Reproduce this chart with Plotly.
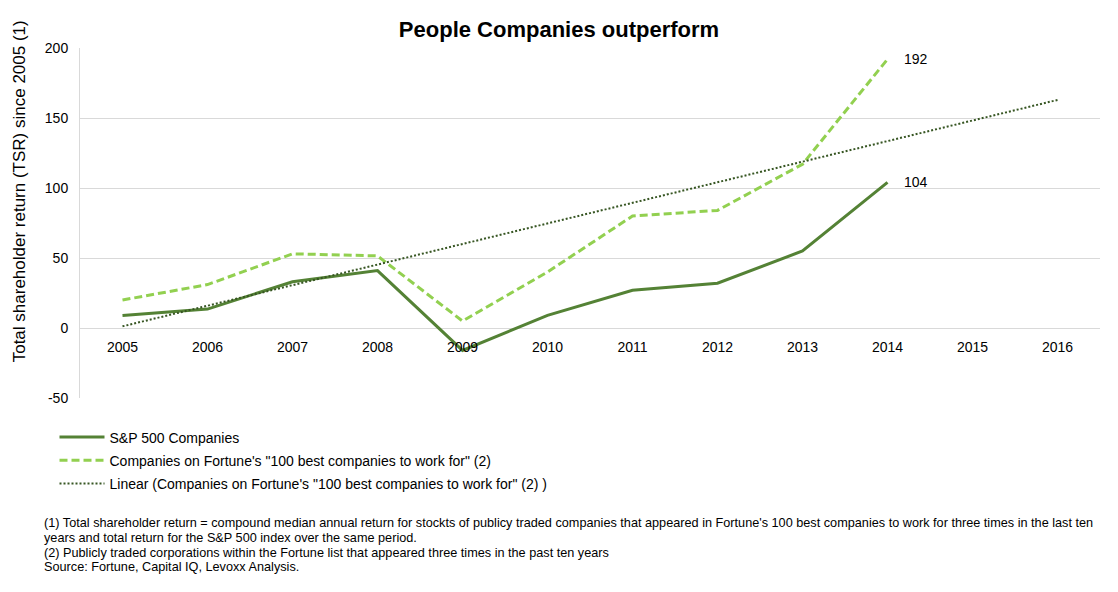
import numpy as np
import plotly.graph_objects as go

years = ["2005", "2006", "2007", "2008", "2009", "2010", "2011", "2012", "2013", "2014", "2015", "2016"]
sp500 = [9, 13.5, 33, 41, -16, 9, 27, 32, 55, 104]
fortune = [20, 31, 53, 51.5, 5, 40, 80, 84, 117, 192]
y_ticks = [-50, 0, 50, 100, 150, 200]

name_sp = "S&P 500 Companies"
name_f = "Companies on Fortune's \"100 best companies to work for\" (2)"
name_lin = "Linear (Companies on Fortune's \"100 best companies to work for\" (2) )"

footnotes = [
    "(1) Total shareholder return = compound median annual return for stockts of publicy traded companies that appeared in Fortune's 100 best companies to work for three times in the last ten",
    "years and total return for the S&P 500 index over the same period.",
    "(2) Publicly traded corporations within the Fortune list that appeared three times in the past ten years",
    "Source: Fortune, Capital IQ, Levoxx Analysis.",
]

# least-squares linear trend of the Fortune series, extended over all categories
idx = np.arange(len(fortune))
slope, icpt = np.polyfit(idx, fortune, 1)
trend = [float(slope * i + icpt) for i in range(len(years))]

FONT = "Liberation Sans, Arial, sans-serif"

fig = go.Figure()
fig.add_trace(go.Scatter(x=years[:len(sp500)], y=sp500, mode="lines", name=name_sp,
                         line=dict(color="#548235", width=3), legendgroup="a"))
fig.add_trace(go.Scatter(x=years[:len(fortune)], y=fortune, mode="lines", name=name_f,
                         line=dict(color="#92D050", width=3, dash="8px,4px"), legendgroup="b"))
fig.add_trace(go.Scatter(x=years, y=trend, mode="lines", name=name_lin,
                         line=dict(color="#375623", width=2, dash="2px,2px"), legendgroup="c"))

for series in (fortune, sp500):
    fig.add_annotation(x=len(series) - 1, y=series[-1], text=str(round(series[-1])),
                       showarrow=False, xanchor="left", xshift=14,
                       font=dict(family=FONT, size=14, color="#000000"))

# footnote lines (paper coords below the plot area)
foot_y = [-0.357, -0.40, -0.443, -0.483]
for line, fy in zip(footnotes, foot_y):
    fig.add_annotation(xref="paper", yref="paper", x=-0.037, y=fy, xanchor="left", yanchor="middle",
                       text=line, showarrow=False, align="left",
                       font=dict(family=FONT, size=12.7, color="#000000"))

fig.add_annotation(xref="paper", yref="paper", x=-0.059, y=0.59, xanchor="center", yanchor="middle",
                   text="Total shareholder return (TSR) since 2005 (1)", textangle=-90, showarrow=False,
                   font=dict(family=FONT, size=17, color="#000000"))

fig.update_layout(
    width=1118, height=592,
    margin=dict(l=80, r=18, t=48, b=194),
    paper_bgcolor="white", plot_bgcolor="white",
    font=dict(family=FONT, size=14, color="#000000"),
    title=dict(text="<b>People Companies outperform</b>", x=0.5, xanchor="center",
               y=0.95, yanchor="middle", font=dict(family=FONT, size=22, color="#000000")),
    xaxis=dict(type="category", categoryorder="array", categoryarray=years,
               range=[-0.5, len(years) - 0.5],
               anchor="free", position=(0 - y_ticks[0]) / (y_ticks[-1] - y_ticks[0]),
               showgrid=False, showline=False, zeroline=False, ticks="", ticklabelstandoff=9,
               tickfont=dict(family=FONT, size=14, color="#000000")),
    yaxis=dict(range=[y_ticks[0], y_ticks[-1]], tickvals=y_ticks, ticktext=[str(v) for v in y_ticks],
               showgrid=True, gridcolor="#D9D9D9", gridwidth=1, zeroline=False,
               showline=True, linecolor="#D9D9D9", linewidth=1,
               ticks="", ticklabelstandoff=8, tickfont=dict(family=FONT, size=14, color="#000000")),
    legend=dict(orientation="v", x=-0.025, y=-0.067, xanchor="left", yanchor="top",
                font=dict(family=FONT, size=14, color="#000000"),
                tracegroupgap=2, itemwidth=45, bgcolor="rgba(0,0,0,0)"),
    showlegend=True,
)

fig.write_html("out.html")
